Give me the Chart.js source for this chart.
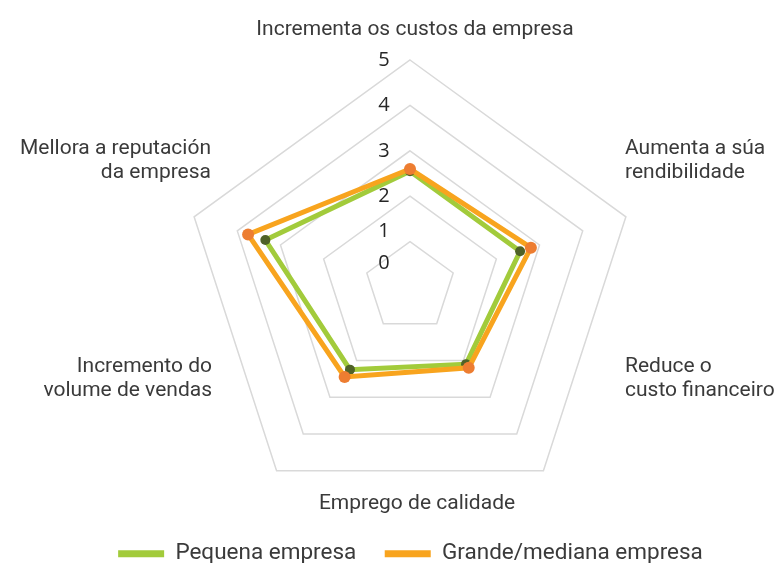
<!DOCTYPE html>
<html>
<head>
<meta charset="utf-8">
<script src="https://cdn.jsdelivr.net/npm/chart.js@4.4.1/dist/chart.umd.min.js"></script>
<style>
  html, body { margin: 0; padding: 0; background: #fff; }
  #wrap { width: 781px; height: 563px; position: relative; }
</style>
</head>
<body>
<div id="wrap"><canvas id="radar"></canvas></div>
<script>
// categories, clockwise from the top (one entry per line of text)
const categories = [
  ['Incrementa os custos da empresa'],
  ['Aumenta a súa', 'rendibilidade'],
  ['Reduce o', 'custo financeiro'],
  ['Incremento do', 'volume de vendas'],
  ['Mellora a reputación', 'da empresa'],
];
const bottomLabel = 'Emprego de calidade';

const seriesNames = ['Pequena empresa', 'Grande/mediana empresa'];
const pequenaValues = [2.55, 2.55, 2.1, 2.25, 3.35];
const grandeValues = [2.6, 2.8, 2.2, 2.45, 3.75];

const tickLabels = ['0', '1', '2', '3', '4', '5'];

const textColor = '#3a3a3a';

// where each category's text sits, relative to the centre of the radar
const labelSpots = [
  { align: 'center', dx: 5, dy: -252 },
  { align: 'left', dx: 215, dy: -133 },
  { align: 'left', dx: 215, dy: 85 },
  { align: 'right', dx: -198, dy: 85 },
  { align: 'right', dx: -199, dy: -133 },
];

const axisText = {
  id: 'axisText',
  afterDraw(chart) {
    const r = chart.scales.r;
    const ctx = chart.ctx;
    ctx.save();
    ctx.fillStyle = textColor;
    ctx.font = '21px Roboto';
    ctx.textBaseline = 'alphabetic';
    categories.forEach((lines, i) => {
      const s = labelSpots[i];
      ctx.textAlign = s.align;
      lines.forEach((line, j) => {
        ctx.fillText(line, r.xCenter + s.dx, r.yCenter + s.dy + j * 24);
      });
    });
    ctx.textAlign = 'center';
    ctx.fillText(bottomLabel, r.xCenter + 7, r.yCenter + 222);

    // scale numbers, a little left of the top spoke
    ctx.font = '20px "Open Sans"';
    ctx.fillStyle = '#262626';
    ctx.textBaseline = 'middle';
    r.ticks.forEach((t, i) => {
      let y = r.yCenter - r.getDistanceFromCenterForValue(t.value);
      if (t.value === 0) y -= 24;
      if (t.value === 1) y -= 10;
      ctx.fillText(tickLabels[i], r.xCenter - 26, y);
    });
    ctx.restore();
  }
};

new Chart(document.getElementById('radar'), {
  type: 'radar',
  data: {
    labels: categories,
    datasets: [
      {
        label: seriesNames[0],
        data: pequenaValues,
        borderColor: '#a2cb3b',
        backgroundColor: '#a2cb3b',
        borderWidth: 5,
        fill: false,
        pointRadius: 5,
        pointBorderWidth: 0,
        pointBackgroundColor: '#4f6228',
        order: 2,
      },
      {
        label: seriesNames[1],
        data: grandeValues,
        borderColor: '#f8a41e',
        backgroundColor: '#f8a41e',
        borderWidth: 5,
        fill: false,
        pointRadius: 6,
        pointBorderWidth: 0,
        pointBackgroundColor: '#ed7d31',
        order: 1,
      },
    ],
  },
  options: {
    responsive: true,
    maintainAspectRatio: false,
    animation: false,
    layout: {
      padding: { top: 60, left: 40, right: 0, bottom: 0 },
    },
    elements: { line: { tension: 0 } },
    scales: {
      r: {
        min: 0,
        max: 5,
        ticks: { stepSize: 1, display: false },
        pointLabels: { display: false },
        angleLines: { display: false },
        grid: { color: '#d9d9d9', lineWidth: 1.5 },
      },
    },
    plugins: {
      legend: {
        position: 'bottom',
        maxHeight: 49,
        labels: {
          boxWidth: 46,
          boxHeight: 7,
          padding: 28.5,
          color: textColor,
          font: { family: 'Roboto', size: 22.5 },
          sort: (a, b) => a.datasetIndex - b.datasetIndex,
          generateLabels(chart) {
            return Chart.defaults.plugins.legend.labels.generateLabels(chart).map((item) => {
              item.lineWidth = 0;
              item.fillStyle = item.strokeStyle;
              return item;
            });
          },
        },
      },
      tooltip: { enabled: false },
    },
  },
  plugins: [axisText],
});
</script>
</body>
</html>
